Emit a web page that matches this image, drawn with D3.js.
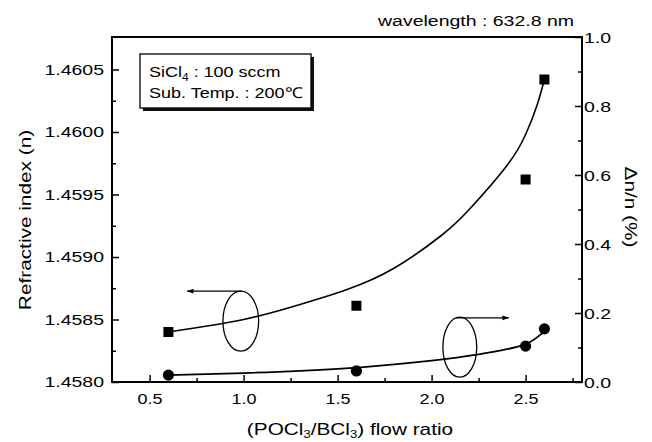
<!DOCTYPE html>
<html><head><meta charset="utf-8">
<script src="https://cdn.jsdelivr.net/npm/d3@7"></script>
<style>
body{margin:0;background:#fff}
svg{display:block}
text{font-family:"Liberation Sans",Arial,Helvetica,sans-serif;fill:#000}
</style>
</head><body>
<svg id="c" width="652" height="442"></svg>
<script>
// ---- data ----
const flowRatio = [0.6, 1.6, 2.5, 2.6];
const refractiveIndex = [1.45840, 1.45861, 1.45962, 1.46042];
const deltaNoverN = [0.020, 0.032, 0.104, 0.154];
// fitted guide curves
const fitIndexX = [0.6, 1.0, 1.3, 1.55, 1.8, 2.05, 2.2, 2.4, 2.5, 2.56, 2.6];
const fitIndexY = [1.45840, 1.45850, 1.45862, 1.45874, 1.45891, 1.45917, 1.45938, 1.45973, 1.45998, 1.46021, 1.46042];
const fitDeltaX = [0.6, 1.0, 1.5, 2.0, 2.25, 2.4, 2.5, 2.55, 2.6];
const fitDeltaY = [0.020, 0.026, 0.038, 0.062, 0.080, 0.095, 0.110, 0.125, 0.146];
// ticks
const xTicks = [0.5, 1.0, 1.5, 2.0, 2.5];
const xMinor = [0.75, 1.25, 1.75, 2.25, 2.75];
const yLeftTicks = [1.4580, 1.4585, 1.4590, 1.4595, 1.4600, 1.4605];
const yLeftMinor = [1.45825, 1.45875, 1.45925, 1.45975, 1.46025];
const yRightTicks = [0.0, 0.2, 0.4, 0.6, 0.8, 1.0];
const yRightMinor = [0.1, 0.3, 0.5, 0.7, 0.9];
// annotations (data coordinates)
const leftEllipse = {cx: 0.985, cy: 1.458487, rx: 0.095, ry: 0.00024};
const leftArrow = {x1: 0.99, x2: 0.70, y: 1.458727};
const rightEllipse = {cx: 2.15, cy: 0.101, rx: 0.09, ry: 0.087};
const rightArrow = {x1: 2.13, x2: 2.41, y: 0.186};

const svg = d3.select("#c");
const L = 112, R = 582, T = 37, B = 382;
const x = d3.scaleLinear().domain([0.3, 2.8]).range([L, R]);
const yL = d3.scaleLinear().domain([1.4580, 1.46076]).range([B, T]);
const yR = d3.scaleLinear().domain([0, 1.0]).range([B, T]);

svg.append("defs").append("marker").attr("id","ah").attr("viewBox","0 0 10 10")
  .attr("refX",9).attr("refY",5).attr("markerWidth",9).attr("markerHeight",7)
  .attr("markerUnits","userSpaceOnUse").attr("orient","auto")
  .append("path").attr("d","M0,1.5 L10,5 L0,8.5 Z").attr("fill","#000");

// frame
svg.append("rect").attr("x",L).attr("y",T).attr("width",R-L).attr("height",B-T)
  .attr("fill","none").attr("stroke","#000").attr("stroke-width",2);

function styleAxis(g){
  g.select(".domain").remove();
  g.selectAll(".tick line").attr("stroke","#000").attr("stroke-width",1.5);
  g.selectAll(".tick text").attr("font-size",15);
}
const gx = svg.append("g").attr("transform",`translate(0,${B})`)
  .call(d3.axisBottom(x).tickValues(xTicks).tickFormat(d3.format(".1f")).tickSize(-7).tickPadding(11));
styleAxis(gx);
gx.selectAll(".tick text").attr("transform","scale(1.2,1)");
svg.append("g").attr("transform",`translate(0,${B})`)
  .call(d3.axisBottom(x).tickValues(xMinor).tickFormat("").tickSize(-4)).call(styleAxis);

const gl = svg.append("g").attr("transform",`translate(${L},0)`)
  .call(d3.axisLeft(yL).tickValues(yLeftTicks).tickFormat(d3.format(".4f")).tickSize(-7).tickPadding(8));
styleAxis(gl);
gl.selectAll(".tick text").attr("x",0).attr("transform","translate(-8,0) scale(1.3,1)");
svg.append("g").attr("transform",`translate(${L},0)`)
  .call(d3.axisLeft(yL).tickValues(yLeftMinor).tickFormat("").tickSize(-4)).call(styleAxis);

const gr = svg.append("g").attr("transform",`translate(${R},0)`)
  .call(d3.axisRight(yR).tickValues(yRightTicks).tickFormat(d3.format(".1f")).tickSize(-7).tickPadding(2));
styleAxis(gr);
gr.selectAll(".tick text").attr("x",0).attr("transform","translate(2,1) scale(1.3,1)");
svg.append("g").attr("transform",`translate(${R},0)`)
  .call(d3.axisRight(yR).tickValues(yRightMinor).tickFormat("").tickSize(-4)).call(styleAxis);

// fitted curves
const lineL = d3.line().x(d=>x(d[0])).y(d=>yL(d[1])).curve(d3.curveNatural);
const lineR = d3.line().x(d=>x(d[0])).y(d=>yR(d[1])).curve(d3.curveNatural);
svg.append("path").datum(d3.zip(fitIndexX, fitIndexY)).attr("d",lineL)
  .attr("fill","none").attr("stroke","#000").attr("stroke-width",1.6);
svg.append("path").datum(d3.zip(fitDeltaX, fitDeltaY)).attr("d",lineR)
  .attr("fill","none").attr("stroke","#000").attr("stroke-width",1.8);

// markers
const sq = 10;
svg.append("g").selectAll("rect").data(d3.zip(flowRatio, refractiveIndex)).join("rect")
  .attr("x",d=>x(d[0])-sq/2).attr("y",d=>yL(d[1])-sq/2).attr("width",sq).attr("height",sq).attr("fill","#000");
svg.append("g").selectAll("circle").data(d3.zip(flowRatio, deltaNoverN)).join("circle")
  .attr("cx",d=>x(d[0])).attr("cy",d=>yR(d[1])).attr("r",5.6).attr("fill","#000");

// annotations
svg.append("ellipse").attr("cx",x(leftEllipse.cx)).attr("cy",yL(leftEllipse.cy))
  .attr("rx",x(leftEllipse.cx+leftEllipse.rx)-x(leftEllipse.cx))
  .attr("ry",yL(leftEllipse.cy)-yL(leftEllipse.cy+leftEllipse.ry))
  .attr("fill","none").attr("stroke","#000").attr("stroke-width",1.3);
svg.append("line").attr("x1",x(leftArrow.x1)).attr("x2",x(leftArrow.x2))
  .attr("y1",yL(leftArrow.y)).attr("y2",yL(leftArrow.y))
  .attr("stroke","#000").attr("stroke-width",1.2).attr("marker-end","url(#ah)");
svg.append("ellipse").attr("cx",x(rightEllipse.cx)).attr("cy",yR(rightEllipse.cy))
  .attr("rx",x(rightEllipse.cx+rightEllipse.rx)-x(rightEllipse.cx))
  .attr("ry",yR(rightEllipse.cy)-yR(rightEllipse.cy+rightEllipse.ry))
  .attr("fill","none").attr("stroke","#000").attr("stroke-width",1.3);
svg.append("line").attr("x1",x(rightArrow.x1)).attr("x2",x(rightArrow.x2))
  .attr("y1",yR(rightArrow.y)).attr("y2",yR(rightArrow.y))
  .attr("stroke","#000").attr("stroke-width",1.2).attr("marker-end","url(#ah)");

// legend box
svg.append("rect").attr("x",143).attr("y",57).attr("width",171).attr("height",54).attr("fill","#111");
svg.append("rect").attr("x",140).attr("y",54).attr("width",171).attr("height",54)
  .attr("fill","#fff").attr("stroke","#000").attr("stroke-width",1.3);
const t1 = svg.append("text").attr("transform","translate(149,77) scale(1.2,1)").attr("font-size",15);
t1.append("tspan").text("SiCl");
t1.append("tspan").attr("font-size",10).attr("dy",4).text("4");
t1.append("tspan").attr("dy",-4).text(" : 100 sccm");
svg.append("text").attr("transform","translate(149,98) scale(1.2,1)").attr("font-size",15)
  .text("Sub. Temp. : 200\u2103");

// titles
svg.append("text").attr("transform","translate(476,26) scale(1.3,1)").attr("font-size",15)
  .attr("text-anchor","middle").text("wavelength : 632.8 nm");
const xt = svg.append("text").attr("transform","translate(350,435) scale(1.3,1)").attr("font-size",16)
  .attr("text-anchor","middle");
xt.append("tspan").text("(POCl");
xt.append("tspan").attr("font-size",10).attr("dy",3).text("3");
xt.append("tspan").attr("dy",-3).text("/BCl");
xt.append("tspan").attr("font-size",10).attr("dy",3).text("3");
xt.append("tspan").attr("dy",-3).text(") flow ratio");
svg.append("text").attr("transform","translate(31,220) rotate(-90) scale(1.3,1)").attr("font-size",16)
  .attr("text-anchor","middle").text("Refractive index (n)");
svg.append("text").attr("transform","translate(625,207) rotate(90) scale(1.3,1)").attr("font-size",16)
  .attr("text-anchor","middle").text("\u0394n/n (%)");
</script>
</body></html>
